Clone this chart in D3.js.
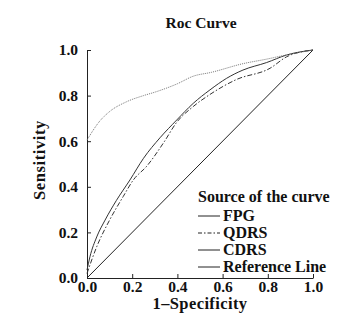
<!DOCTYPE html>
<html>
<head>
<meta charset="utf-8">
<script src="https://cdn.jsdelivr.net/npm/d3@7"></script>
<style>
  body { margin: 0; background: #fff; }
  text { font-family: "Liberation Serif", "DejaVu Serif", serif; font-weight: bold; fill: #111; }
</style>
</head>
<body>
<svg id="roc" width="356" height="320"></svg>
<script>
// values
let fpg = [[0,0.605],[0.058,0.69],[0.10,0.73],[0.175,0.773],[0.25,0.80],[0.30,0.815],[0.40,0.852],
           [0.47,0.885],[0.55,0.902],[0.69,0.94],[0.795,0.96],[0.88,0.978],[1,1]];
let qdrs = [[0,0.02],[0.043,0.137],[0.10,0.254],[0.16,0.357],[0.205,0.43],[0.264,0.49],
            [0.34,0.595],[0.397,0.683],[0.47,0.752],[0.544,0.805],[0.66,0.87],[0.81,0.92],[0.883,0.97],[1,1]];
let cdrs = [[0,0.035],[0.013,0.093],[0.043,0.18],[0.08,0.254],[0.13,0.34],[0.19,0.43],[0.25,0.525],
            [0.323,0.615],[0.397,0.693],[0.47,0.766],[0.544,0.825],[0.618,0.876],[0.69,0.912],
            [0.795,0.945],[0.883,0.978],[1,1]];
let refLine = [[0,0],[1,1]];
let ticks = [0, 0.2, 0.4, 0.6, 0.8, 1.0];
let legendNames = ["FPG", "QDRS", "CDRS", "Reference Line"];

let svg = d3.select("#roc");
let padL = 87, padR = 313, padT = 50, padB = 278;

let x = d3.scaleLinear().domain([0, 1]).range([padL, padR]);
let y = d3.scaleLinear().domain([0, 1]).range([padB, padT]);

// axes, ticks point inward
let xAxis = svg.append("g")
    .attr("transform", "translate(0," + padB + ")")
    .call(d3.axisBottom(x).tickValues(ticks).tickFormat(d3.format(".1f")).tickSizeInner(-4).tickSizeOuter(0).tickPadding(3));
let yAxis = svg.append("g")
    .attr("transform", "translate(" + padL + ",0)")
    .call(d3.axisLeft(y).tickValues(ticks).tickFormat(d3.format(".1f")).tickSizeInner(-4).tickSizeOuter(0).tickPadding(9));

svg.selectAll(".domain, .tick line").attr("stroke", "#222").attr("stroke-width", 1);
svg.selectAll(".tick text").attr("font-size", 15.5).attr("font-family", null).attr("fill", "#111");

let line = d3.line()
    .x(function(d) { return x(d[0]); })
    .y(function(d) { return y(d[1]); })
    .curve(d3.curveMonotoneX);

svg.append("path").datum(refLine).attr("d", line)
   .attr("fill", "none").attr("stroke", "#222").attr("stroke-width", 1);
svg.append("path").datum(cdrs).attr("d", line)
   .attr("fill", "none").attr("stroke", "#333").attr("stroke-width", 1);
svg.append("path").datum(qdrs).attr("d", line)
   .attr("fill", "none").attr("stroke", "#333").attr("stroke-width", 1).attr("stroke-dasharray", "5,2,1.5,2");
svg.append("path").datum(fpg).attr("d", line)
   .attr("fill", "none").attr("stroke", "#777").attr("stroke-width", 1).attr("stroke-dasharray", "1,1");

// titles
svg.append("text").attr("x", 201).attr("y", 28).attr("text-anchor", "middle")
   .attr("font-size", 15.5).text("Roc Curve");
svg.append("text").attr("x", 200).attr("y", 309).attr("text-anchor", "middle")
   .attr("font-size", 16.5).attr("letter-spacing", 0.4).text("1\u2013Specificity");
svg.append("text").attr("transform", "translate(45,160) rotate(-90)").attr("text-anchor", "middle")
   .attr("font-size", 16.5).attr("letter-spacing", 0.6).text("Sensitivity");

// legend
let lg = svg.append("g");
lg.append("text").attr("x", 198).attr("y", 202).attr("font-size", 16).text("Source of the curve");
let dashes = [null, "4,2,1.5,2", null, null];
legendNames.forEach(function(name, i) {
  let ly = 216 + i * 17;
  lg.append("line").attr("x1", 198).attr("x2", 220).attr("y1", ly).attr("y2", ly)
    .attr("stroke", "#222").attr("stroke-width", 1).attr("stroke-dasharray", dashes[i]);
  lg.append("text").attr("x", 223).attr("y", ly + 5).attr("font-size", 16).text(name);
});
</script>
</body>
</html>
